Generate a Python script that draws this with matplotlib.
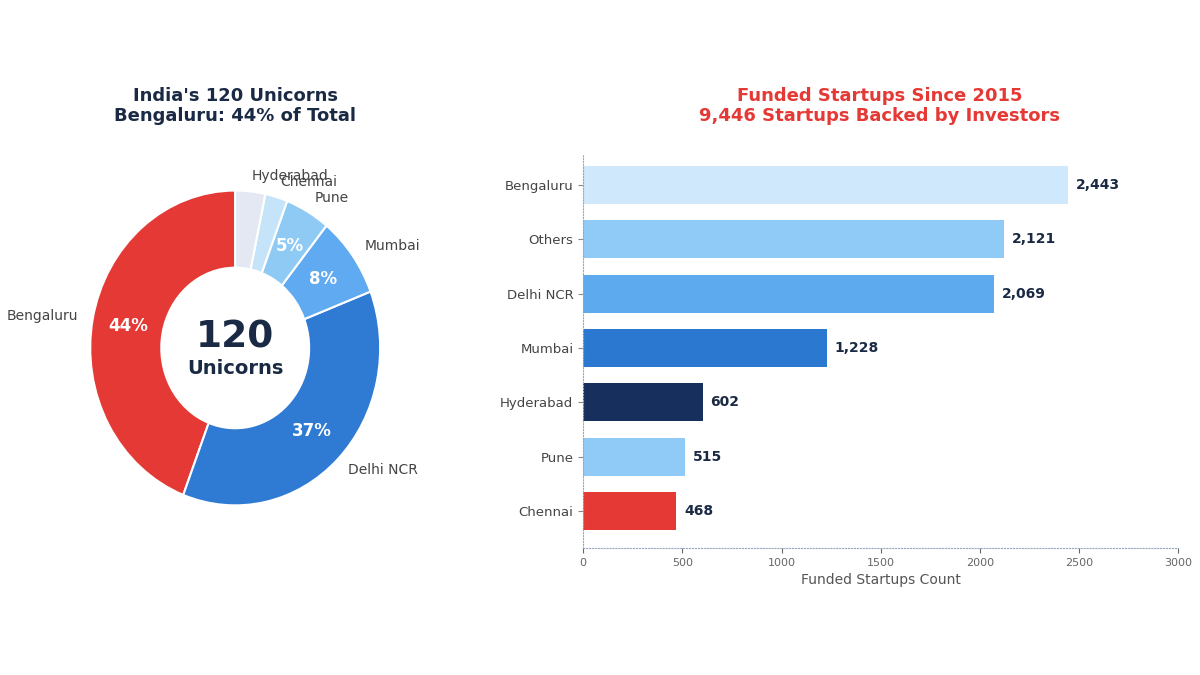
import matplotlib.pyplot as plt

# unicorn split (count of 120)
uni_cities = ["Bengaluru", "Delhi NCR", "Mumbai", "Pune", "Chennai", "Hyderabad"]
uni_counts = [53, 44, 10, 6, 3, 4]
uni_colors = ["#e53935", "#2f7ad3", "#5faaf0", "#8fcaf5", "#c6e4f9", "#e3e8f2"]

# funded startups since 2015
fund_cities = ["Bengaluru", "Others", "Delhi NCR", "Mumbai", "Hyderabad", "Pune", "Chennai"]
fund_counts = [2443, 2121, 2069, 1228, 602, 515, 468]
fund_colors = ["#cfe8fb", "#90cbf8", "#5dabee", "#2a78d0", "#172f5c", "#90cbf8", "#e53935"]

NAVY = "#1b2a44"
RED = "#e53935"

fig = plt.figure(figsize=(12, 6.75), dpi=100)

# ---- donut ----
ax1 = fig.add_axes([0.045, 0.193, 0.302, 0.583])
wedges, texts, autotexts = ax1.pie(
    uni_counts,
    labels=uni_cities,
    colors=uni_colors,
    startangle=90,
    counterclock=True,
    labeldistance=1.1,
    pctdistance=0.75,
    autopct=lambda p: f"{p:.0f}%" if p >= 4.5 else "",
    wedgeprops=dict(width=0.49, edgecolor="white", linewidth=1.5),
    textprops=dict(fontsize=10, color="#444444"),
)
for t in autotexts:
    t.set_color("white")
    t.set_fontweight("bold")
    t.set_fontsize(12)
ax1.set_xlim(-1.25, 1.25)
ax1.set_ylim(-1.25, 1.25)
ax1.set_aspect("auto")
ax1.text(0, 0.065, "120", ha="center", va="center", fontsize=27,
         fontweight="bold", color=NAVY)
ax1.text(0, -0.13, "Unicorns", ha="center", va="center", fontsize=14,
         fontweight="bold", color=NAVY)
fig.text(0.196, 0.843, "India's 120 Unicorns\nBengaluru: 44% of Total",
         ha="center", va="center", fontsize=13, fontweight="bold",
         color=NAVY, linespacing=1.2)

# ---- bars ----
ax2 = fig.add_axes([0.486, 0.188, 0.496, 0.582])
ypos = list(range(len(fund_cities)))
ax2.barh(ypos, fund_counts, height=0.7, color=fund_colors)
for y, v in zip(ypos, fund_counts):
    ax2.text(v + 40, y, f"{v:,}", va="center", ha="left", fontsize=10,
             fontweight="bold", color=NAVY)
ax2.set_yticks(ypos)
ax2.set_yticklabels(fund_cities, fontsize=9.5, color="#444444")
ax2.set_xlim(0, 3000)
ax2.set_ylim(6.68, -0.55)
ax2.set_xticks([0, 500, 1000, 1500, 2000, 2500, 3000])
ax2.tick_params(axis="x", labelsize=8, colors="#666666")
ax2.tick_params(axis="y", colors="#888888", labelcolor="#444444")
ax2.set_xlabel("Funded Startups Count", fontsize=10, color="#555555")
for s in ["top", "right"]:
    ax2.spines[s].set_visible(False)
for s in ["left", "bottom"]:
    ax2.spines[s].set_linestyle(":")
    ax2.spines[s].set_color("#9aa6c0")
fig.text(0.733, 0.843, "Funded Startups Since 2015\n9,446 Startups Backed by Investors",
         ha="center", va="center", fontsize=13, fontweight="bold",
         color=RED, linespacing=1.2)

fig.savefig("out.png", dpi=100, facecolor="white")
